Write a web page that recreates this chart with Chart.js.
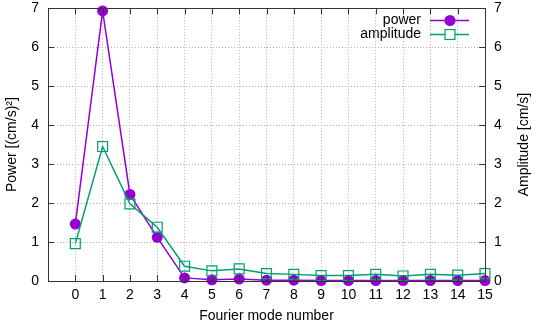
<!DOCTYPE html>
<html><head><meta charset="utf-8">
<script src="https://cdn.jsdelivr.net/npm/chart.js@4/dist/chart.umd.min.js"></script>
<style>html,body{margin:0;padding:0;background:#fff}#wrap{width:536px;height:326px}</style>
</head><body><div id="wrap"><canvas id="c" width="536" height="326"></canvas></div>
<script>
const modes = [0,1,2,3,4,5,6,7,8,9,10,11,12,13,14,15];
const power = [1.46,6.93,2.22,1.12,0.08,0.03,0.05,0.02,0.02,0.01,0.01,0.01,0.01,0.01,0.01,0.01];
const amplitude = [0.96,3.45,1.98,1.38,0.38,0.26,0.31,0.19,0.17,0.14,0.14,0.17,0.13,0.17,0.15,0.19];
const seriesNames = ['power','amplitude'];
const xTitle = 'Fourier mode number';
const yTitle = 'Power [(cm/s)\u00B2]';
const y2Title = 'Amplitude [cm/s]';

const FONT = 'Liberation Sans, Arial, Helvetica, sans-serif';
const PURPLE = '#9400d3';
const GREEN = '#009e73';
const GRID = '#b0b0b0';

const framePlugin = {
  id: 'frame',
  afterDatasetsDraw(chart) {
    const {ctx, chartArea: a, scales} = chart;
    ctx.save();
    ctx.strokeStyle = '#333';
    ctx.lineWidth = 1;
    ctx.strokeRect(Math.round(a.left)+0.5, Math.round(a.top)+0.5, Math.round(a.right-a.left), Math.round(a.bottom-a.top));
    const L = 6;
    ctx.beginPath();
    modes.forEach(m => {
      const x = Math.round(scales.x.getPixelForValue(m)) + 0.5;
      ctx.moveTo(x, a.bottom); ctx.lineTo(x, a.bottom - L);
      ctx.moveTo(x, a.top); ctx.lineTo(x, a.top + L);
    });
    for (let v = 0; v <= 7; v++) {
      const y = Math.round(scales.y.getPixelForValue(v)) + 0.5;
      ctx.moveTo(a.left, y); ctx.lineTo(a.left + L, y);
      const y2 = Math.round(scales.y1.getPixelForValue(v)) + 0.5;
      ctx.moveTo(a.right, y2); ctx.lineTo(a.right - L, y2);
    }
    ctx.stroke();
    ctx.fillStyle = '#000';
    ctx.font = '14px ' + FONT;
    ctx.textAlign = 'center';
    ctx.textBaseline = 'middle';
    ctx.translate(524, (a.top + a.bottom) / 2);
    ctx.rotate(-Math.PI / 2);
    ctx.fillText(y2Title, 0, 0);
    ctx.restore();

    ctx.save();
    ctx.font = '14px ' + FONT;
    ctx.textAlign = 'right';
    ctx.textBaseline = 'middle';
    ctx.fillStyle = '#000';
    const rows = [20, 34];
    chart.data.datasets.forEach((ds, i) => {
      const y = rows[i];
      ctx.fillText(ds.label, 421, y);
      ctx.strokeStyle = ds.borderColor;
      ctx.lineWidth = 1.5;
      ctx.beginPath(); ctx.moveTo(430, y + 0.5); ctx.lineTo(469, y + 0.5); ctx.stroke();
      if (ds.pointStyle === 'circle') {
        ctx.fillStyle = ds.borderColor;
        ctx.beginPath(); ctx.arc(450, y + 0.5, ds.pointRadius, 0, Math.PI * 2); ctx.fill();
        ctx.fillStyle = '#000';
      } else {
        const s = Math.SQRT1_2 * ds.pointRadius;
        ctx.lineWidth = 1.2;
        ctx.fillStyle = '#fff';
        ctx.fillRect(450 - s, y + 0.5 - s, 2 * s, 2 * s);
        ctx.strokeRect(450 - s, y + 0.5 - s, 2 * s, 2 * s);
        ctx.fillStyle = '#000';
      }
    });
    ctx.restore();
  }
};

const gridColor = (lo, hi) => (ctx) => {
  const v = ctx.tick ? ctx.tick.value : null;
  return (v === lo || v === hi) ? 'rgba(0,0,0,0)' : GRID;
};

new Chart(document.getElementById('c'), {
  type: 'line',
  data: {
    datasets: [
      {
        label: seriesNames[0],
        data: modes.map((m, i) => ({x: m, y: power[i]})),
        borderColor: PURPLE, backgroundColor: PURPLE,
        borderWidth: 1.5, pointStyle: 'circle', pointRadius: 5.5,
        pointBorderWidth: 0, pointBackgroundColor: PURPLE,
        yAxisID: 'y', order: 1, clip: false, tension: 0
      },
      {
        label: seriesNames[1],
        data: modes.map((m, i) => ({x: m, y: amplitude[i]})),
        borderColor: GREEN, backgroundColor: 'rgba(0,0,0,0)',
        borderWidth: 1.5, pointStyle: 'rect', pointRadius: 7,
        pointBorderWidth: 1.2, pointBackgroundColor: 'rgba(0,0,0,0)', pointBorderColor: GREEN,
        yAxisID: 'y1', order: 0, clip: false, tension: 0
      }
    ]
  },
  options: {
    responsive: false, animation: false, devicePixelRatio: 1,
    layout: {padding: {top: 8, left: 0, right: 0, bottom: 0}},
    plugins: {legend: {display: false}, tooltip: {enabled: false}},
    scales: {
      x: {
        type: 'linear', min: -1, max: 15,
        ticks: {stepSize: 1, autoSkip: false, maxRotation: 0, color: '#000', font: {family: FONT, size: 14}, padding: 6,
          callback: v => (v < 0 ? '' : String(v))},
        grid: {color: gridColor(-1, 15), lineWidth: 1, drawTicks: false},
        border: {display: false, dash: [1, 2]},
        title: {display: true, text: xTitle, color: '#000', font: {family: FONT, size: 14}, padding: {top: 0, bottom: 1}},
        afterFit: s => { s.height = 45; s.paddingLeft = 0; s.paddingRight = 0; }
      },
      y: {
        position: 'left', min: 0, max: 7,
        ticks: {stepSize: 1, color: '#000', font: {family: FONT, size: 14}, padding: 9},
        grid: {color: gridColor(0, 7), lineWidth: 1, drawTicks: false},
        border: {display: false, dash: [1, 2]},
        title: {display: true, text: yTitle, color: '#000', font: {family: FONT, size: 14}, padding: {top: 4, bottom: 0}},
        afterFit: s => { s.width = 48; s.paddingTop = 0; s.paddingBottom = 0; }
      },
      y1: {
        position: 'right', min: 0, max: 7,
        ticks: {stepSize: 1, color: '#000', font: {family: FONT, size: 14}, padding: 9},
        grid: {display: false, drawTicks: false},
        border: {display: false},
        afterFit: s => { s.width = 51; s.paddingTop = 0; s.paddingBottom = 0; }
      }
    }
  },
  plugins: [framePlugin]
});
</script></body></html>
